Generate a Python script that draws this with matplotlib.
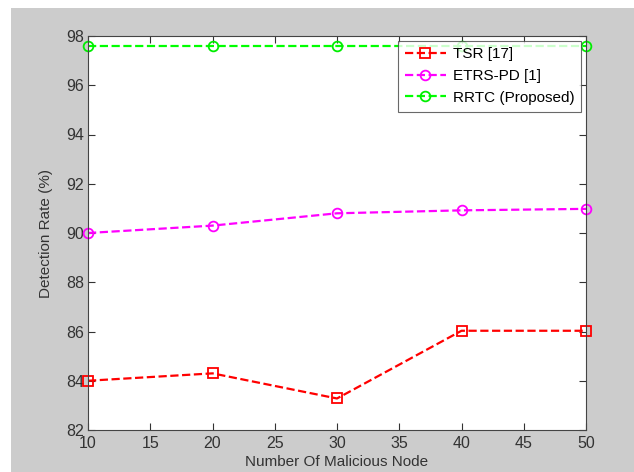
import matplotlib.pyplot as plt
from matplotlib.patches import Rectangle

plt.rcParams['font.family'] = ['Liberation Sans', 'DejaVu Sans']

nodes = [10, 20, 30, 40, 50]
tsr = [84.0, 84.3, 83.28, 86.03, 86.03]
etrs_pd = [90.0, 90.3, 90.8, 90.92, 90.98]
rrtc = [97.58, 97.58, 97.58, 97.58, 97.58]

labels = ['TSR [17]', 'ETRS-PD [1]', 'RRTC (Proposed)']

fig = plt.figure(figsize=(6.34, 4.72), dpi=100, facecolor='white')
# grey MATLAB-style figure background (image is cropped slightly at top/left)
fig.add_artist(Rectangle((11 / 634, 0), 1, 1 - 8 / 472, transform=fig.transFigure,
                         facecolor='#cccccc', edgecolor='none', zorder=-10))

ax = fig.add_axes([88 / 634, 1 - 430 / 472, (586 - 88) / 634, (430 - 36) / 472])
ax.set_facecolor('white')

ax.plot(nodes, tsr, '--s', color='#ff0000', mfc='none', mec='#ff0000', ms=7.5, mew=1.3, lw=1.6,
        label=labels[0], clip_on=False)
ax.plot(nodes, etrs_pd, '--o', color='#ff00ff', mfc='none', mec='#ff00ff', ms=7, mew=1.3, lw=1.6,
        label=labels[1], clip_on=False)
ax.plot(nodes, rrtc, '--o', color='#00ff00', mfc='none', mec='#00ee00', ms=7, mew=1.3, lw=1.6,
        label=labels[2], clip_on=False)

ax.set_xlim(10, 50)
ax.set_ylim(82, 98)
ax.set_xticks(range(10, 51, 5))
ax.set_yticks(range(82, 99, 2))
ax.tick_params(direction='in', top=True, right=True, length=5, width=0.8,
               labelsize=11.5, colors='#333333')
ax.tick_params(axis='x', pad=4)
ax.tick_params(axis='y', pad=3)
for s in ax.spines.values():
    s.set_color('#444444')
    s.set_linewidth(0.8)

ax.set_xlabel('Number Of Malicious Node', fontsize=11, color='#333333', labelpad=3)
ax.set_ylabel('Detection Rate (%)', fontsize=11, color='#333333', labelpad=9)

leg = ax.legend(loc='upper right', fontsize=11, frameon=True, fancybox=False,
                borderaxespad=0.3, handlelength=2.7, handletextpad=0.45,
                borderpad=0.45, labelspacing=0.5)
leg.get_frame().set_edgecolor('#444444')
leg.get_frame().set_linewidth(0.8)
leg.set_zorder(5)

fig.savefig('out.png', dpi=100, facecolor=fig.get_facecolor())
